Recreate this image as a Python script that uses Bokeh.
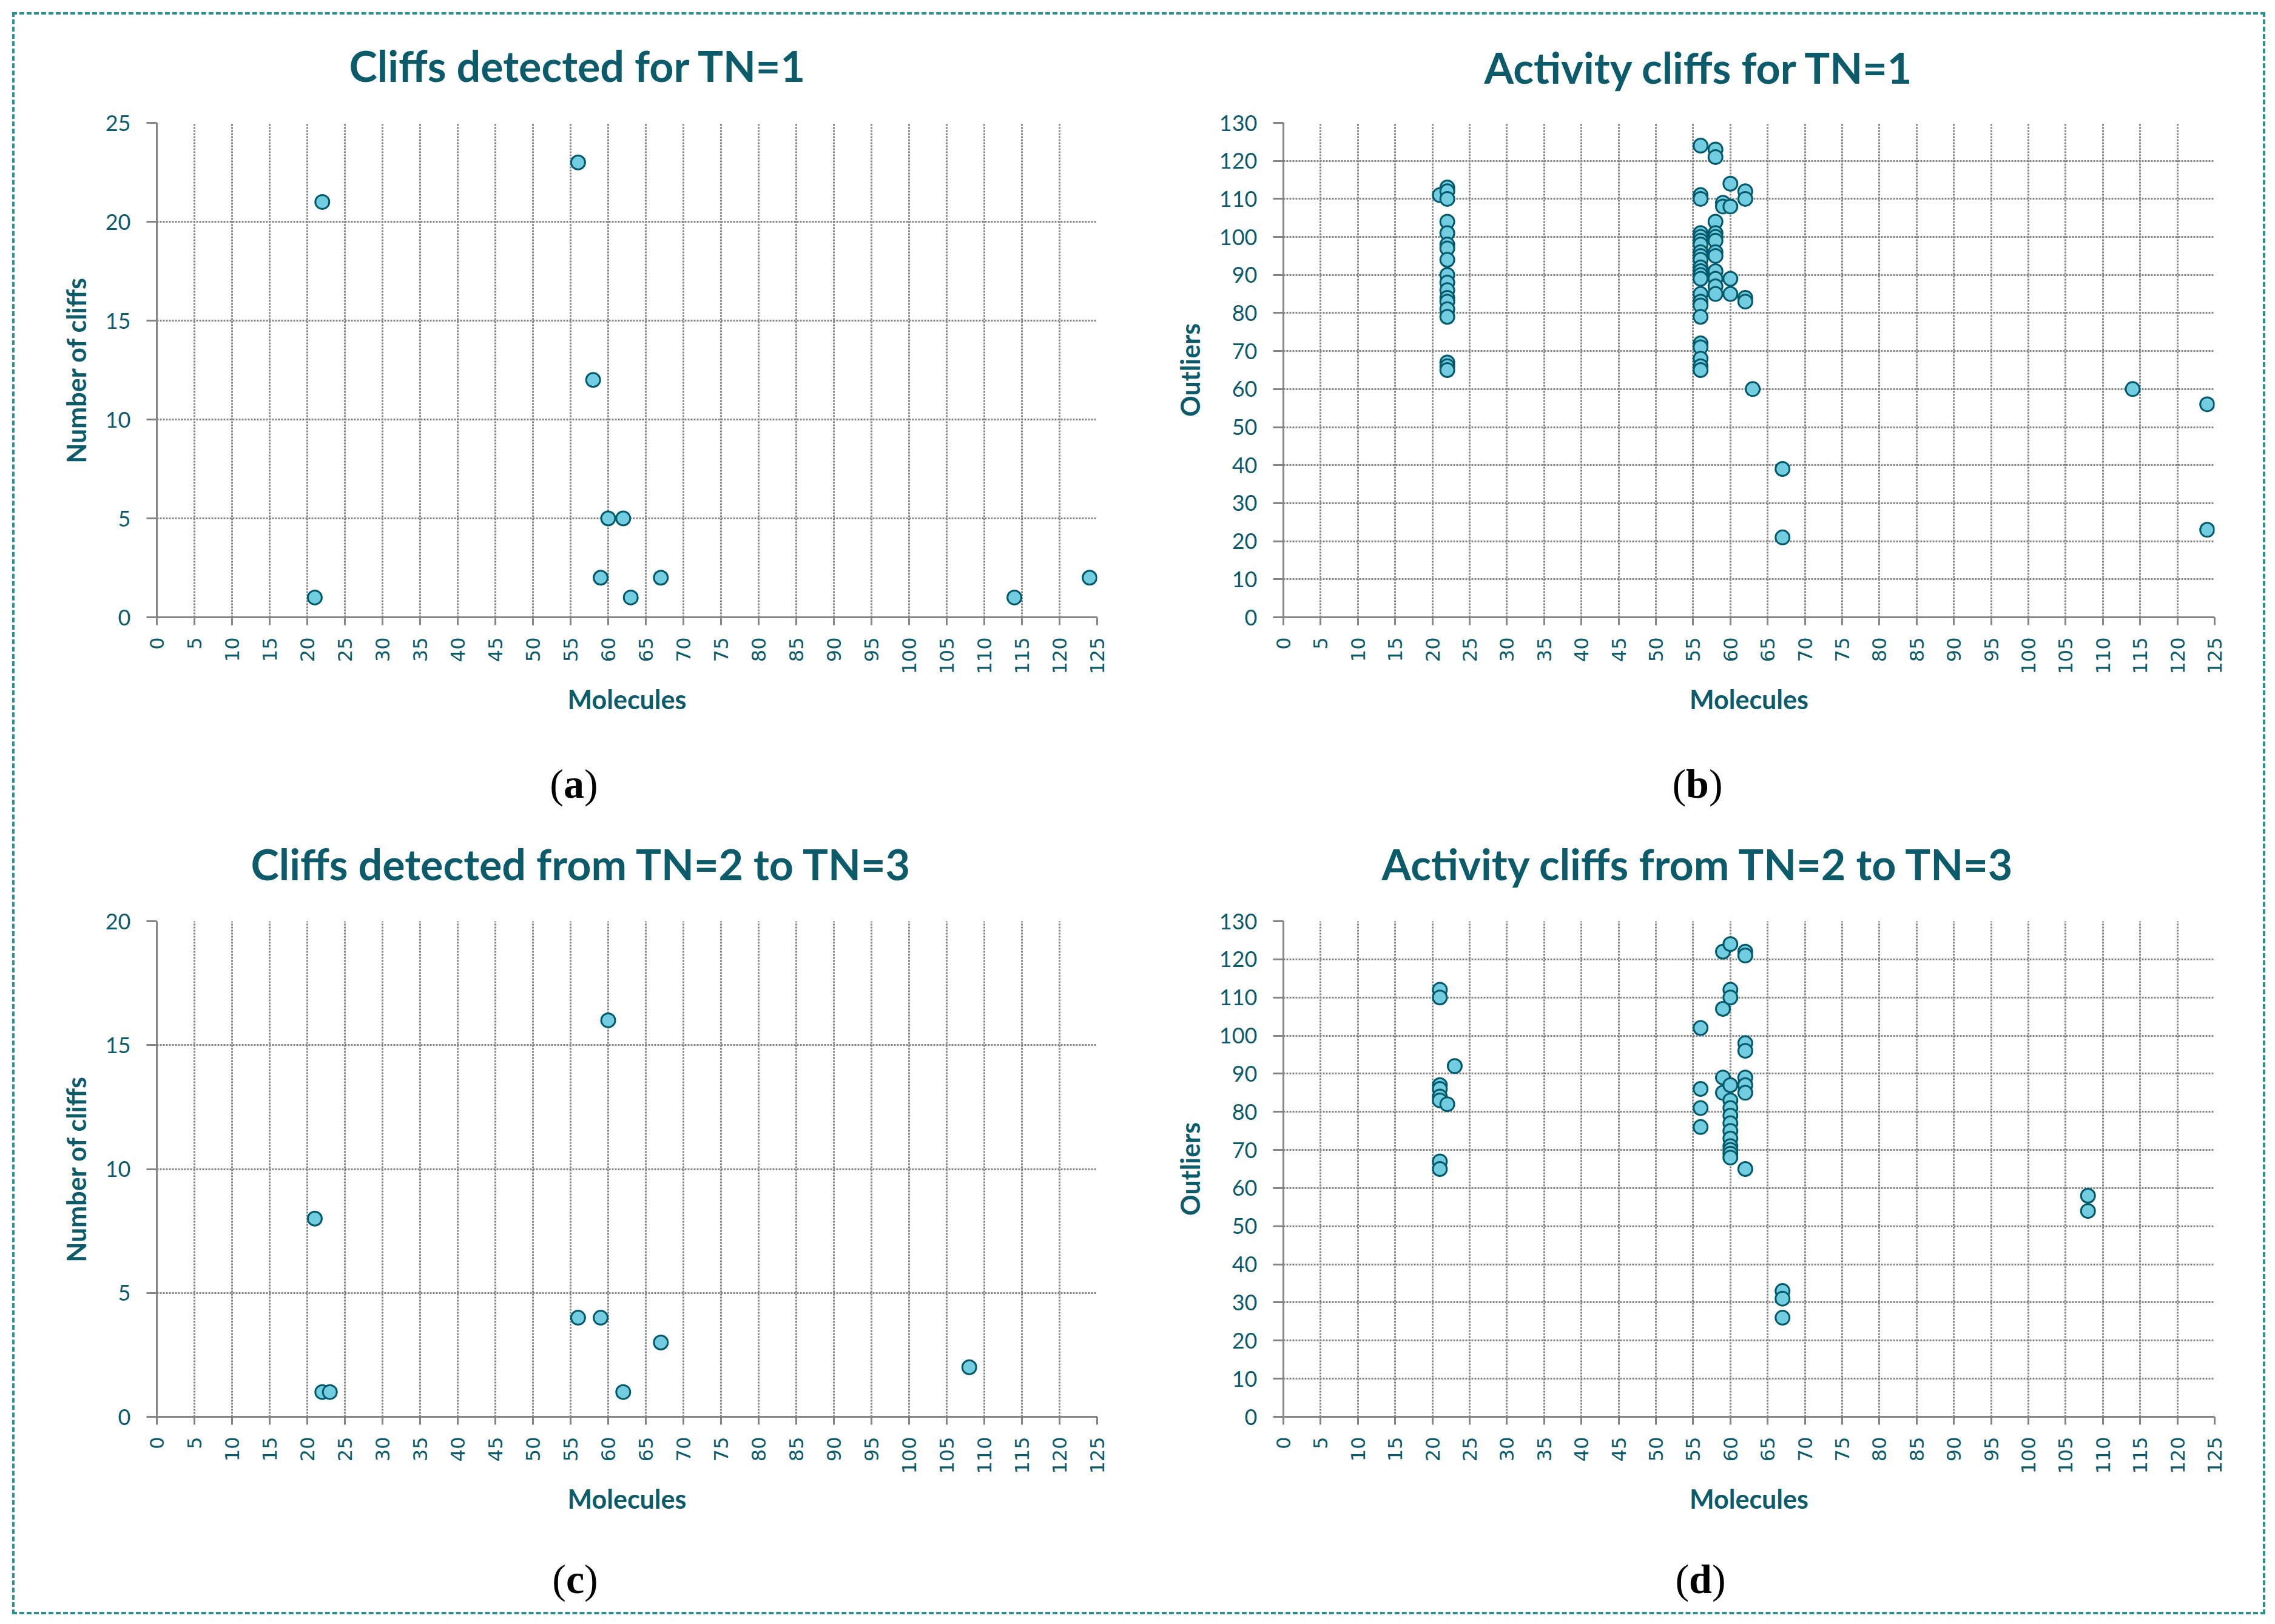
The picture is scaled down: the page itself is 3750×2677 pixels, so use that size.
import numpy as np
from bokeh.plotting import figure
from bokeh.models import Range1d, FixedTicker, Title, Div
from bokeh.layouts import column, row
from bokeh.embed import file_html
from bokeh.resources import INLINE

# ---------------- data ----------------
x_ticks = list(range(0, 126, 5))

# (a) Cliffs detected for TN=1
a_mol = [21, 22, 56, 58, 59, 60, 62, 63, 67, 114, 124]
a_cliffs = [1, 21, 23, 12, 2, 5, 5, 1, 2, 1, 2]

# (b) Activity cliffs for TN=1
b_mol = [21,
         22, 22, 22, 22, 22, 22, 22, 22, 22, 22, 22, 22, 22, 22, 22, 22, 22, 22,
         56, 56, 56, 56, 56, 56, 56, 56, 56, 56, 56, 56, 56, 56, 56, 56, 56, 56, 56, 56, 56, 56, 56,
         58, 58, 58, 58, 58, 58, 58, 58, 58, 58, 58, 58,
         59, 59,
         60, 60, 60, 60,
         62, 62, 62, 62,
         63, 67, 67, 114, 124, 124]
b_out = [111,
         113, 112, 110, 104, 101, 98, 97, 94, 90, 88, 86, 84, 83, 81, 79, 67, 66, 65,
         124, 111, 110, 101, 100, 99, 98, 96, 95, 94, 92, 91, 90, 89, 85, 83, 82, 79, 72, 71, 68, 66, 65,
         123, 121, 104, 101, 100, 99, 96, 95, 91, 89, 87, 85,
         109, 108,
         114, 108, 89, 85,
         112, 110, 84, 83,
         60, 39, 21, 60, 56, 23]

# (c) Cliffs detected from TN=2 to TN=3
c_mol = [21, 22, 23, 56, 59, 60, 62, 67, 108]
c_cliffs = [8, 1, 1, 4, 4, 16, 1, 3, 2]

# (d) Activity cliffs from TN=2 to TN=3
d_mol = [21, 21, 21, 21, 21, 21, 21, 21,
         22, 23,
         56, 56, 56, 56,
         59, 59, 59, 59,
         60, 60, 60, 60, 60, 60, 60, 60, 60, 60, 60, 60, 60, 60,
         62, 62, 62, 62, 62, 62, 62, 62,
         67, 67, 67,
         108, 108]
d_out = [112, 110, 87, 86, 84, 83, 67, 65,
         82, 92,
         102, 86, 81, 76,
         122, 107, 89, 85,
         124, 112, 110, 87, 83, 81, 79, 77, 75, 73, 71, 70, 69, 68,
         122, 121, 98, 96, 89, 87, 85, 65,
         33, 31, 26,
         58, 54]

# ---------------- style ----------------
TEAL = "#0b5b6b"
GRID = "#858585"
FILL = "#72cde0"
EDGE = "#005a6b"
BORDER = "#2a9090"
SANS = "Lato"
COL_W = 1867


def panel(origin, size, frame, xs, ys, ymax, ystep, ylabel,
          title, title_offset, title_standoff):
    ox, oy = origin
    w, h = size
    L, T, R, B = frame
    p = figure(width=w, height=h, output_backend="svg", toolbar_location=None,
               x_range=Range1d(0, 125), y_range=Range1d(0, ymax),
               min_border_left=L - ox, min_border_right=ox + w - R,
               min_border_top=T - oy, min_border_bottom=oy + h - B,
               background_fill_color="white", border_fill_color=None,
               outline_line_color=None)

    p.title = Title(text=title, align="left", offset=title_offset,
                    standoff=title_standoff, text_font=SANS,
                    text_font_style="bold", text_font_size="70px",
                    text_color=TEAL)

    yt = list(range(0, ymax + 1, ystep))
    p.xaxis.ticker = FixedTicker(ticks=x_ticks)
    p.yaxis.ticker = FixedTicker(ticks=yt)
    p.xgrid.ticker = FixedTicker(ticks=x_ticks)
    p.ygrid.ticker = FixedTicker(ticks=yt)
    for g in (p.xgrid, p.ygrid):
        g.grid_line_color = GRID
        g.grid_line_width = 3
        g.grid_line_dash = "3 2"

    for ax in (p.xaxis, p.yaxis):
        ax.axis_line_color = GRID
        ax.axis_line_width = 3
        ax.major_tick_line_color = GRID
        ax.major_tick_line_width = 3
        ax.major_tick_in = 0
        ax.minor_tick_line_color = None
        ax.major_label_text_color = TEAL
        ax.axis_label_text_color = TEAL
        ax.axis_label_text_font = SANS
        ax.axis_label_text_font_style = "bold"
        ax.axis_label_text_font_size = "43px"

    p.xaxis.major_tick_out = 13
    p.xaxis.major_label_orientation = np.pi / 2
    p.xaxis.major_label_text_font = "DejaVu Sans"
    p.xaxis.major_label_text_font_size = "32px"
    p.xaxis.major_label_standoff = 20
    p.xaxis.axis_label = "Molecules"
    p.xaxis.axis_label_standoff = 12

    p.yaxis.major_tick_out = 17
    p.yaxis.major_label_text_font = SANS
    p.yaxis.major_label_text_font_size = "36px"
    p.yaxis.major_label_standoff = 26
    p.yaxis.axis_label = ylabel
    p.yaxis.axis_label_standoff = 20

    p.scatter(xs, ys, size=23, marker="circle", fill_color=FILL,
              line_color=EDGE, line_width=3)
    return p


def tag_div(letter, cx, height, line_h):
    html = ('<div style="margin-left:%dpx;width:160px;text-align:center;'
            'font-family:\'Liberation Serif\',serif;font-size:68px;'
            'line-height:%dpx;color:#000;overflow:visible;">(<b>%s</b>)</div>') % (cx - 80, line_h, letter)
    return Div(text=html, width=COL_W, height=height, styles={"overflow": "visible"})


Y1, Y2, Y3, Y4 = 1230, 1312, 2540, 2669

pa = panel((8, 8), (COL_W, Y1 - 8), (266, 210, 1816, 1025), a_mol, a_cliffs, 25, 5,
           "Number of cliffs", "Cliffs detected for TN=1", 317, 105)
pb = panel((1875, 8), (COL_W, Y1 - 8), (2123, 207, 3658, 1035), b_mol, b_out, 130, 10,
           "Outliers", "Activity cliffs for TN=1", 331, 99)
pc = panel((8, Y2), (COL_W, Y3 - Y2), (266, 1516, 1816, 2333), c_mol, c_cliffs, 20, 5,
           "Number of cliffs", "Cliffs detected from TN=2 to TN=3", 155, 105)
pd_ = panel((1875, Y2), (COL_W, Y3 - Y2), (2123, 1515, 3658, 2343), d_mol, d_out, 130, 10,
            "Outliers", "Activity cliffs from TN=2 to TN=3", 162, 105)

tags_top = row(tag_div("a", 941, Y2 - Y1, 130), tag_div("b", 916, Y2 - Y1, 130),
               styles={"overflow": "visible"})
tags_bot = row(tag_div("c", 943, Y4 - Y3, 112), tag_div("d", 921, Y4 - Y3, 112))

layout = column(row(pa, pb), tags_top, row(pc, pd_), tags_bot,
                styles={"outline": "4px dashed " + BORDER, "outline-offset": "-24px"})
open("out.html", "w").write(file_html(layout, INLINE))
